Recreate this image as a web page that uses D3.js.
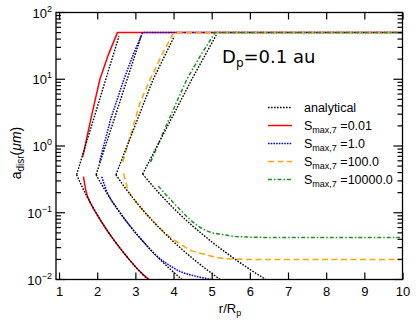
<!DOCTYPE html>
<html>
<head>
<meta charset="utf-8">
<script src="https://cdn.jsdelivr.net/npm/d3@7"></script>
<style>
  body { margin: 0; background: #fff; }
  svg { display: block; }
  text { font-family: "Liberation Sans", Arial, Helvetica, sans-serif; fill: #000; }
</style>
</head>
<body>
<svg id="chart" width="416" height="322"></svg>
<script>
// values: r in units of R_p, a in micron
var xTicks = [1, 2, 3, 4, 5, 6, 7, 8, 9, 10];
var yMajor = [0.01, 0.1, 1, 10, 100];
var yExp = ["\u22122", "\u22121", "0", "1", "2"];

var seriesNames = ["0.01", "1.0", "100.0", "10000.0"];
var seriesColors = ["#ff0000", "#0000ff", "#ffa500", "#1c911c"];
var seriesDash = [null, "1.6,1.1", "6,3.5", "4,2,1.5,2"];

// analytical curves (black dotted), lower and upper branch from the vertex
var anaLowR = [
  [1.46, 1.6, 1.85, 2.0, 2.2, 2.4, 2.8, 3.1, 3.32],
  [1.97, 2.2, 2.5, 2.8, 3.2, 3.6, 3.9, 4.22],
  [2.49, 2.7, 3.0, 3.4, 3.9, 4.5, 4.9, 5.22],
  [3.19, 3.6, 4.0, 4.5, 5.0, 5.5, 6.0, 6.42]
];
var anaLowA = [
  [0.372, 0.248, 0.131, 0.0931, 0.0612, 0.0417, 0.0212, 0.0135, 0.01],
  [0.372, 0.22, 0.12, 0.070, 0.0372, 0.0212, 0.0145, 0.01],
  [0.372, 0.25, 0.150, 0.0813, 0.0417, 0.0207, 0.01365, 0.01],
  [0.380, 0.203, 0.117, 0.0635, 0.0367, 0.0224, 0.0142, 0.01]
];
var anaUpR = [
  [1.46, 2.0, 2.57],
  [1.97, 2.55, 3.15],
  [2.49, 3.46, 4.02],
  [3.19, 4.48, 5.12]
];
var anaUpA = [
  [0.372, 3.8, 44],
  [0.372, 3.85, 44],
  [0.372, 9.8, 44],
  [0.380, 10, 46]
];

// simulated curves for each S_max,7
var simLowR = [
  [1.64, 1.70, 1.85, 2.0, 2.2, 2.4, 2.8, 3.1, 3.36],
  [2.12, 2.2, 2.35, 2.5, 2.8, 3.2, 3.6, 3.9, 4.17, 4.45, 4.7, 5.0],
  [2.69, 2.8, 3.0, 3.4, 3.9, 4.1, 4.4, 4.87, 5.3, 6.0, 10],
  [3.6, 3.8, 4.0, 4.2, 4.43, 4.65, 4.87, 5.31, 5.74, 6.5, 10]
];
var simLowA = [
  [0.347, 0.219, 0.131, 0.0931, 0.0612, 0.0417, 0.0212, 0.0135, 0.01],
  [0.347, 0.25, 0.161, 0.12, 0.070, 0.0372, 0.0215, 0.0162, 0.0132, 0.0117, 0.0108, 0.01],
  [0.389, 0.229, 0.150, 0.0813, 0.0437, 0.0363, 0.0282, 0.0234, 0.0207, 0.020, 0.020],
  [0.251, 0.186, 0.141, 0.107, 0.0794, 0.0631, 0.0537, 0.0468, 0.0437, 0.0427, 0.0427]
];
var simUpR = [
  [1.62, 1.85, 2.07, 2.3, 2.53, 10],
  [2.06, 2.35, 2.70, 2.95, 3.19, 10],
  [2.67, 3.12, 3.38, 3.7, 4.0, 10],
  [3.40, 3.85, 4.35, 4.72, 5.09, 10]
];
var simUpA = [
  [0.69, 2.8, 10, 24, 50, 50],
  [0.575, 2.5, 10, 24, 50, 50],
  [0.575, 4.4, 9.8, 23.4, 50, 50],
  [0.575, 2.3, 10, 23.4, 50, 50]
];

var svg = d3.select("#chart");
var pLeft = 56, pRight = 402.5, pTop = 12.5, pBottom = 279.5;

var x = d3.scaleLinear().domain([0.92, 10]).range([pLeft, pRight]);
var y = d3.scaleLog().domain([0.01, 100]).range([pBottom, pTop]);

svg.append("clipPath").attr("id", "plotClip")
  .append("rect")
  .attr("x", pLeft).attr("y", pTop)
  .attr("width", pRight - pLeft).attr("height", pBottom - pTop);

var plot = svg.append("g").attr("clip-path", "url(#plotClip)");

var pts = function(rs, as) {
  return rs.map(function(r, i) { return [r, as[i]]; });
};

var smooth = d3.line()
  .x(function(d) { return x(d[0]); })
  .y(function(d) { return y(d[1]); })
  .curve(d3.curveMonotoneX);

var straight = d3.line()
  .x(function(d) { return x(d[0]); })
  .y(function(d) { return y(d[1]); });

// simulated curves first, then analytical on top
for (var i = 0; i < seriesNames.length; i++) {
  var path1 = plot.append("path")
    .attr("d", smooth(pts(simLowR[i], simLowA[i])))
    .attr("fill", "none")
    .attr("stroke", seriesColors[i])
    .attr("stroke-width", 1.5);
  var path2 = plot.append("path")
    .attr("d", straight(pts(simUpR[i], simUpA[i])))
    .attr("fill", "none")
    .attr("stroke", seriesColors[i])
    .attr("stroke-width", 1.5);
  if (seriesDash[i]) {
    path1.attr("stroke-dasharray", seriesDash[i]);
    path2.attr("stroke-dasharray", seriesDash[i]);
  }
}

for (var j = 0; j < anaLowR.length; j++) {
  plot.append("path")
    .attr("d", smooth(pts(anaLowR[j], anaLowA[j])))
    .attr("fill", "none")
    .attr("stroke", "#000")
    .attr("stroke-width", 1.4)
    .attr("stroke-dasharray", "1.6,1.4");
  plot.append("path")
    .attr("d", straight(pts(anaUpR[j], anaUpA[j])))
    .attr("fill", "none")
    .attr("stroke", "#000")
    .attr("stroke-width", 1.4)
    .attr("stroke-dasharray", "1.6,1.4");
}

// frame
svg.append("rect")
  .attr("x", pLeft).attr("y", pTop)
  .attr("width", pRight - pLeft).attr("height", pBottom - pTop)
  .attr("fill", "none")
  .attr("stroke", "#000")
  .attr("stroke-width", 1.3);

// x axes, ticks pointing inward
var xBottom = svg.append("g")
  .attr("transform", "translate(0," + pBottom + ")")
  .call(d3.axisBottom(x).tickValues(xTicks).tickSize(-7).tickPadding(7).tickFormat(d3.format("d")));
var xTop = svg.append("g")
  .attr("transform", "translate(0," + pTop + ")")
  .call(d3.axisTop(x).tickValues(xTicks).tickSize(-7).tickFormat(""));

[xBottom, xTop].forEach(function(g) {
  g.select(".domain").remove();
  g.selectAll(".tick line").attr("stroke", "#000").attr("stroke-width", 1.2);
});
xBottom.selectAll(".tick text")
  .style("font-family", "Liberation Sans, Arial, sans-serif")
  .style("font-size", "13px")
  .attr("fill", "#000");

// y ticks on both sides, majors longer
var yTicks = y.ticks();
var isMajor = function(d) {
  return Math.abs(Math.log10(d) - Math.round(Math.log10(d))) < 1e-6;
};

svg.append("g").selectAll("line")
  .data(yTicks)
  .enter().append("line")
  .attr("x1", pLeft)
  .attr("x2", function(d) { return pLeft + (isMajor(d) ? 9 : 5); })
  .attr("y1", function(d) { return y(d); })
  .attr("y2", function(d) { return y(d); })
  .attr("stroke", "#000")
  .attr("stroke-width", 1.2);

svg.append("g").selectAll("line")
  .data(yTicks)
  .enter().append("line")
  .attr("x1", pRight)
  .attr("x2", function(d) { return pRight - (isMajor(d) ? 9 : 5); })
  .attr("y1", function(d) { return y(d); })
  .attr("y2", function(d) { return y(d); })
  .attr("stroke", "#000")
  .attr("stroke-width", 1.2);

var yLab = svg.append("g").selectAll("text")
  .data(yMajor)
  .enter().append("text")
  .attr("x", 52)
  .attr("y", function(d) { return y(d) + 5; })
  .attr("text-anchor", "end")
  .style("font-size", "13px");
yLab.append("tspan").text("10");
yLab.append("tspan")
  .attr("dy", -6)
  .style("font-size", "9px")
  .text(function(d, i) { return yExp[i]; });

// axis titles
var xt = svg.append("text")
  .attr("x", 230)
  .attr("y", 313)
  .attr("text-anchor", "middle")
  .style("font-size", "13px");
xt.append("tspan").text("r/R");
xt.append("tspan").attr("dy", 3).style("font-size", "9px").text("p");

var yt = svg.append("text")
  .attr("transform", "translate(21,153) rotate(-90)")
  .attr("text-anchor", "middle")
  .style("font-size", "14px");
yt.append("tspan").text("a");
yt.append("tspan").attr("dy", 3).style("font-size", "10px").text("disr");
yt.append("tspan").attr("dy", -3).text("(");
yt.append("tspan").style("font-style", "italic").text("\u03bcm");
yt.append("tspan").text(")");

// annotation
var ann = svg.append("text")
  .attr("x", 222)
  .attr("y", 63)
  .style("font-family", "DejaVu Sans, Verdana, sans-serif")
  .style("font-size", "18px");
ann.append("tspan").text("D");
ann.append("tspan").attr("dy", 4).style("font-size", "12px").text("p");
ann.append("tspan").attr("dy", -4).text("=0.1 au");

// legend
var legY = [107.5, 125.5, 143.5, 161.5, 179.5];
var legColors = ["#000"].concat(seriesColors);
var legDash = ["1.6,1.4"].concat(seriesDash);

var leg = svg.append("g");
for (var k = 0; k < legY.length; k++) {
  var ll = leg.append("line")
    .attr("x1", 268).attr("x2", 292)
    .attr("y1", legY[k]).attr("y2", legY[k])
    .attr("stroke", legColors[k])
    .attr("stroke-width", 1.5);
  if (legDash[k]) ll.attr("stroke-dasharray", legDash[k]);

  var lt = leg.append("text")
    .attr("x", 304)
    .attr("y", legY[k] + 4.5)
    .style("font-size", "12.5px");
  if (k == 0) {
    lt.text("analytical");
  } else {
    lt.append("tspan").text("S");
    lt.append("tspan").attr("dy", 3).style("font-size", "9px").text("max,7");
    lt.append("tspan").attr("dy", -3).text(" =" + seriesNames[k - 1]);
  }
}
</script>
</body>
</html>
